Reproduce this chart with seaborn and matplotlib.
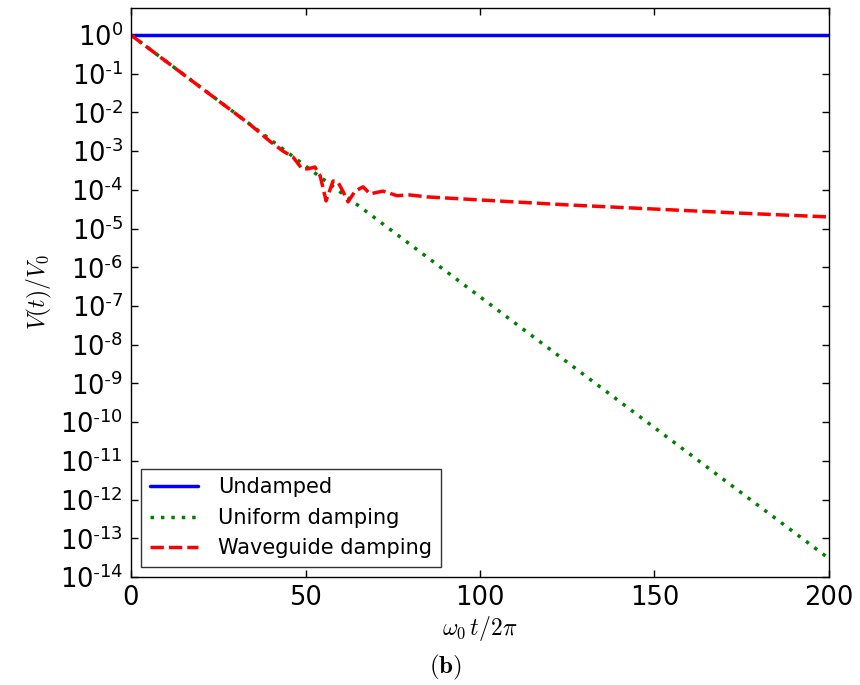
import numpy as np
import pandas as pd
import matplotlib
matplotlib.use("Agg")
import matplotlib.pyplot as plt
import seaborn as sns
from matplotlib.ticker import LogLocator, FuncFormatter, NullLocator

# ---- data ----
t_undamped = [0, 200]
v_undamped = [1.0, 1.0]

t_uniform = [0, 200]
v_uniform = [1.0, 3.0e-14]

t_waveguide = [0, 34.1, 39.8, 43.6, 46.4, 49.0, 50.7, 52.7, 54.2, 55.9, 57.9, 59.3,
               60.7, 62.2, 64.2, 66.5, 68.5, 72.2, 76.2, 79.9, 84.8, 100, 125,
               150, 175, 200]
v_waveguide = [1.0, 4.9e-3, 1.8e-3, 1.0e-3, 7.1e-4, 3.5e-4, 3.5e-4, 3.9e-4, 2.3e-4,
               5.2e-5, 1.7e-4, 1.6e-4, 9.3e-5, 4.9e-5, 9.3e-5, 1.2e-4, 7.9e-5, 9.3e-5,
               7.1e-5, 7.4e-5, 6.6e-5, 5.5e-5, 4.1e-5, 3.2e-5, 2.5e-5, 2.0e-5]

series_labels = ["Undamped", "Uniform damping", "Waveguide damping"]
x_ticks = [0, 50, 100, 150, 200]

sns.set_style("white")
plt.rcParams.update({
    "font.family": ["DejaVu Sans"],
    "mathtext.fontset": "cm",
    "axes.unicode_minus": False,
    "text.color": "black",
    "axes.labelcolor": "black",
    "xtick.color": "black",
    "ytick.color": "black",
    "xtick.direction": "in",
    "ytick.direction": "in",
    "xtick.top": True,
    "ytick.right": True,
    "xtick.bottom": True,
    "ytick.left": True,
    "xtick.major.size": 5,
    "ytick.major.size": 5,
    "xtick.major.width": 1,
    "ytick.major.width": 1,
    "axes.edgecolor": "black",
    "axes.linewidth": 1.0,
})

fig = plt.figure(figsize=(8.6, 6.85), dpi=100)
ax = fig.add_axes([131/860, 1 - 577/685, (829 - 131)/860, (577 - 8)/685])

lw = 2.5
dot_pat = (1.0, 2.0)
dash_pat = (3.85, 1.45)
sns.lineplot(x=t_undamped, y=v_undamped, ax=ax, color="blue", lw=lw,
             label=series_labels[0], estimator=None)
sns.lineplot(x=t_uniform, y=v_uniform, ax=ax, color="green", lw=lw,
             label=series_labels[1], estimator=None)
sns.lineplot(x=t_waveguide, y=v_waveguide, ax=ax, color="red", lw=lw,
             label=series_labels[2], estimator=None)

lines = ax.get_lines()
lines[1].set_dashes(dot_pat)
lines[2].set_dashes(dash_pat)


def log_fmt(v, pos):
    e = int(round(np.log10(v)))
    if e < 0:
        return r"$\mathdefault{10^{\text{-}%d}}$" % (-e)
    return r"$\mathdefault{10^{%d}}$" % e


ax.set_yscale("log")
ax.set_xlim(0, 200)
ax.set_ylim(1e-14, 5)
ax.yaxis.set_major_locator(LogLocator(base=10, numticks=30))
ax.yaxis.set_major_formatter(FuncFormatter(log_fmt))
ax.yaxis.set_minor_locator(NullLocator())
ax.set_xticks(x_ticks)
ax.tick_params(labelsize=18.5, pad=6)
for s in ax.spines.values():
    s.set_visible(True)
    s.set_color("black")

ax.set_xlabel(r"$\omega_0\, t/2\pi$", fontsize=17, labelpad=2)
ax.set_ylabel(r"$V(t)/V_0$", fontsize=17, labelpad=4)

leg = ax.legend(loc="lower left", fontsize=15, frameon=True, fancybox=False,
                edgecolor="black", handlelength=2.3, borderaxespad=0.5,
                handletextpad=1.0)
leg.get_frame().set_linewidth(1.0)
leg.get_lines()[1].set_dashes(dot_pat)
leg.get_lines()[2].set_dashes(dash_pat)

fig.text(445/860, 1 - 667/685, r"$\mathbf{(b)}$", fontsize=18, ha="center", va="center")

fig.savefig("out.png", dpi=100, facecolor="white")
